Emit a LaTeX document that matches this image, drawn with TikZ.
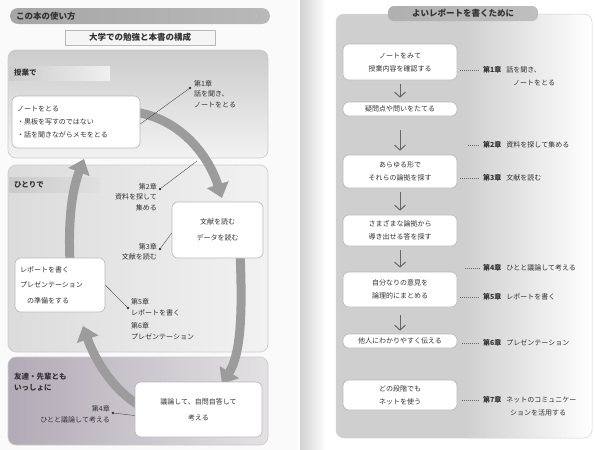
\documentclass[tikz,border=0pt]{standalone}
\usepackage{fontspec}
\newfontfamily\jp{Noto Sans CJK JP}
\usetikzlibrary{arrows.meta}
\begin{document}
\begin{tikzpicture}[x=1pt,y=-1pt,
  every node/.style={font=\jp\fontsize{7}{9.5}\selectfont, inner sep=0pt, text=black!80},
  panelA/.style={rounded corners=8pt, draw=gray!40, line width=0.6pt},
  wbox/.style={draw=gray!55, line width=0.6pt, fill=white, rounded corners=6pt, inner sep=3pt},
  bigarrow/.style={draw=gray!78, line width=9pt, -{Triangle[width=22pt,length=14pt]}},
  leaderL/.style={draw=black!70, line width=0.4pt},
  dotm/.style={circle, fill=black!80, minimum size=2.6pt, inner sep=0pt},
  flowarr/.style={draw=black!60, line width=1pt, -{Straight Barb[length=5pt,width=11pt]}},
  leaderR/.style={draw=black!60, line width=0.6pt, dash pattern=on 0.8pt off 1.2pt},
  hdr/.style={font=\jp\bfseries\fontsize{8.5}{10}\selectfont},
  seclab/.style={font=\jp\bfseries\fontsize{7.5}{11}\selectfont, align=left, anchor=west}
]
\useasboundingbox (0,0) rectangle (595,450);
\fill[white] (0,0) rectangle (595,450);
\fill[black!2] (0,0) rectangle (298,450);
% gutter shadow of right page
\shade[left color=gray!35, right color=white] (300,0) rectangle (326,450);

% ---------------- LEFT PAGE ----------------
\shade[rounded corners=8pt, left color=gray!70, right color=gray!55] (10,8) rectangle (270,24);
\node[hdr, anchor=west] (lhead) at (16,16) {この本の使い方};
\node[hdr, draw=gray!55, fill=gray!8, minimum width=150pt, minimum height=15pt, line width=0.8pt] (sub) at (140,37.5) {大学での勉強と本書の構成};

% panels (y axis is flipped: "top color" is drawn at the bottom)
\shade[panelA, top color=gray!40, bottom color=gray!10] (8,50) rectangle (268,158);
\shade[panelA, left color=gray!28, right color=gray!10] (8,165) rectangle (268,352);
\shade[panelA, left color={rgb,255:red,178;green,170;blue,182}, right color={rgb,255:red,228;green,225;blue,228}] (8,357) rectangle (268,445);
% label bands
\shade[left color=gray!40, right color=gray!12] (9,66) rectangle (110,80);
\shade[left color=gray!42, right color=gray!24] (9,177) rectangle (100,192);
\node[seclab] (s1) at (14,73) {授業で};
\node[seclab] (s2) at (14,184.5) {ひとりで};
\node[seclab] (s3) at (14,382) {友達・先輩とも\\いっしょに};

% big cycle arrows
\draw[bigarrow] (112,112) .. controls (165,106) and (205,145) .. (222,198);
\draw[bigarrow] (240,252) .. controls (243,320) and (240,355) .. (222,384);
\draw[bigarrow] (148,410) .. controls (115,395) and (95,360) .. (83,326);
\draw[bigarrow] (70,262) .. controls (68,220) and (72,190) .. (84,159);
\coordinate (c2end) at (197,161);

% boxes
\node[wbox, minimum width=128pt, minimum height=52pt, text width=118pt, align=left, font=\jp\fontsize{7}{13}\selectfont] (note) at (76,122) {ノートをとる\\・黒板を写すのではない\\・話を聞きながらメモをとる};
\node[wbox, minimum width=91pt, minimum height=56pt, align=center, font=\jp\fontsize{7}{16}\selectfont] (bunken) at (217.5,230) {文献を読む\\データを読む};
\node[wbox, minimum width=90pt, minimum height=54pt, text width=80pt, align=left, font=\jp\fontsize{7}{15.5}\selectfont] (report) at (60,285) {レポートを書く\\プレゼンテーション\\\hspace{7pt}の準備をする};
\node[wbox, minimum width=127pt, minimum height=55pt, align=center, font=\jp\fontsize{7}{16}\selectfont] (giron) at (198.5,409.5) {議論して、自問自答して\\考える};

% callouts
\node[dotm] (d1) at (190,88) {};
\node[anchor=north west, align=left, font=\jp\fontsize{7}{10.5}\selectfont] (c1) at (194,80) {第1章\\話を聞き、\\ノートをとる};
\draw[leaderL] ([yshift=-2pt]note.east) -- (d1);

\node[dotm] (d2) at (160,189) {};
\node[anchor=north east, align=right, font=\jp\fontsize{7}{10.5}\selectfont] (c2) at (157,183) {第2章\\資料を探して\\集める};
\draw[leaderL] (d2) -- (c2end);

\node[dotm] (d3) at (160,249) {};
\node[anchor=north east, align=right, font=\jp\fontsize{7}{10.5}\selectfont] (c3) at (157,243) {第3章\\文献を読む};
\draw[leaderL] (d3) -- ([yshift=-3pt]bunken.west);

\node[dotm] (d5) at (128,308) {};
\node[anchor=north west, align=left, font=\jp\fontsize{7}{11}\selectfont] (c5) at (131,298) {第5章\\レポートを書く\\[2pt]第6章\\プレゼンテーション};
\draw[leaderL] (report.east) -- (d5);

\node[dotm] (d4) at (113,413) {};
\node[anchor=north east, align=right, font=\jp\fontsize{7}{11}\selectfont] (c4) at (110,405) {第4章\\ひとと議論して考える};
\draw[leaderL] (d4) -- ([yshift=-6pt]giron.west);

% ---------------- RIGHT PAGE ----------------
\begin{scope}
\clip[rounded corners=8pt] (336,14) rectangle (592,438);
\fill[gray!38] (336,14) rectangle (463,438);
\shade[left color=gray!38, right color=white] (463,14) rectangle (592,438);
\end{scope}
\draw[rounded corners=8pt, gray!35, line width=0.5pt] (336,14) rectangle (592,438);
\shade[rounded corners=6pt, left color=gray!62, right color=gray!50] (388,6) rectangle (538,21);
\node[hdr] (rhead) at (463,13.5) {よいレポートを書くために};

\tikzset{rbox/.style={wbox, minimum width=114pt, align=center, font=\jp\fontsize{7}{13}\selectfont}}
\node[rbox, minimum height=36pt] (b1) at (400,62) {ノートをみて\\授業内容を確認する};
\node[rbox, minimum height=14pt] (b2) at (400,109) {疑問点や問いをたてる};
\node[rbox, minimum height=33pt] (b3) at (400,171.5) {あらゆる形で\\それらの論拠を探す};
\node[rbox, minimum height=31pt] (b4) at (400,230.5) {さまざまな論拠から\\導き出せる答を探す};
\node[rbox, minimum height=35pt] (b5) at (400,289.5) {自分なりの意見を\\論理的にまとめる};
\node[rbox, minimum height=14pt] (b6) at (400,341) {他人にわかりやすく伝える};
\node[rbox, minimum height=30pt] (b7) at (400,395) {どの段階でも\\ネットを使う};

\draw[flowarr] ([yshift=-4pt]b1.south) -- ([yshift=4pt]b2.north);
\draw[flowarr] ([yshift=-14pt]b2.south) -- ([yshift=4pt]b3.north);
\draw[flowarr] ([yshift=-4pt]b3.south) -- ([yshift=4pt]b4.north);
\draw[flowarr] ([yshift=-4pt]b4.south) -- ([yshift=4pt]b5.north);
\draw[flowarr] ([yshift=-8pt]b5.south) -- ([yshift=3pt]b6.north);

% right labels
\tikzset{rlab/.style={anchor=west, font=\jp\fontsize{7}{12}\selectfont}}
\node[rlab] (r1) at (483,70) {\textbf{第1章}\hspace{5pt}話を聞き、};
\node[rlab] (r1b) at (513,83) {ノートをとる};
\draw[leaderR] (b1.east |- r1.west) ++(3,0) -- ([xshift=-3pt]r1.west);

\coordinate (r2s) at (468,145);
\node[rlab] (r2) at (483,145) {\textbf{第2章}\hspace{5pt}資料を探して集める};
\draw[leaderR] (r2s) -- ([xshift=-3pt]r2.west);

\node[rlab] (r3) at (483,178) {\textbf{第3章}\hspace{5pt}文献を読む};
\draw[leaderR] (b3.east |- r3.west) ++(3,0) -- ([xshift=-3pt]r3.west);

\coordinate (r4s) at (465,268);
\node[rlab] (r4) at (483,268) {\textbf{第4章}\hspace{5pt}ひとと議論して考える};
\draw[leaderR] (r4s) -- ([xshift=-3pt]r4.west);

\node[rlab] (r5) at (483,297) {\textbf{第5章}\hspace{5pt}レポートを書く};
\draw[leaderR] (b5.east |- r5.west) ++(3,0) -- ([xshift=-3pt]r5.west);

\node[rlab] (r6) at (483,343) {\textbf{第6章}\hspace{5pt}プレゼンテーション};
\draw[leaderR] (b6.east |- r6.west) ++(5,0) -- ([xshift=-3pt]r6.west);

\node[rlab] (r7) at (483,400) {\textbf{第7章}\hspace{5pt}ネットのコミュニケー};
\node[rlab] (r7b) at (510,413) {ションを活用する};
\draw[leaderR] (b7.east |- r7.west) ++(5,0) -- ([xshift=-3pt]r7.west);
\end{tikzpicture}
\end{document}
